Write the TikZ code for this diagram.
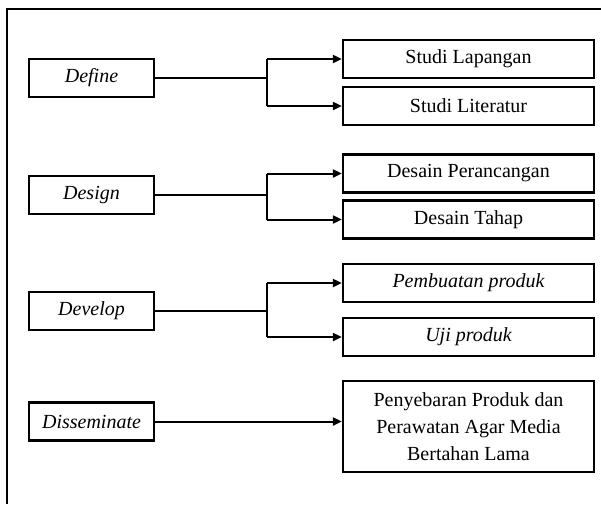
\documentclass[tikz,border=0pt]{standalone}
\usepackage{fontspec}
\setmainfont{Liberation Serif}
\usetikzlibrary{arrows.meta}
\begin{document}
\begin{tikzpicture}[x=1pt,y=-1pt,
  lbox/.style={draw, line width=2.3pt, minimum width=125pt, minimum height=38pt, inner sep=0pt, font=\fontsize{20}{24}\selectfont\itshape},
  rbox/.style={draw, line width=2.3pt, minimum width=251pt, minimum height=38pt, inner sep=0pt, font=\fontsize{20}{27}\selectfont},
  ibox/.style={rbox, font=\fontsize{20}{27}\selectfont\itshape},
  conn/.style={line width=2pt},
  arr/.style={conn, -{Triangle[length=9pt,width=8pt]}}]
\useasboundingbox (0,0) rectangle (601,504);
\draw[line width=2.6pt] (7,504) -- (7,9) -- (601,9);
% left column
\node[lbox] (def) at (91.5,78) {Define};
\node[lbox] (des) at (91.5,195) {Design};
\node[lbox] (dev) at (91.5,311) {Develop};
\node[lbox] (dis) at (91.5,421.5) {Disseminate};
% right column
\node[rbox] (sl) at (468.5,59) {Studi Lapangan};
\node[rbox] (slit) at (468.5,106) {Studi Literatur};
\node[rbox] (dp) at (468.5,173.5) {Desain Perancangan};
\node[rbox] (dt) at (468.5,219.5) {Desain Tahap};
\node[ibox] (pp) at (468.5,283) {Pembuatan produk};
\node[ibox] (up) at (468.5,337) {Uji produk};
\node[rbox, minimum height=91pt, align=center] (pen) at (468.5,426.5) {Penyebaran Produk dan\\Perawatan Agar Media\\Bertahan Lama};
% brackets
\coordinate (b1) at (267,78);
\coordinate (b2) at (267,195);
\coordinate (b3) at (267,311);
\draw[conn] (def.east) -- (b1);
\draw[conn] (b1 |- sl.west) -- (b1 |- slit.west);
\draw[arr] (b1 |- sl.west) -- (sl.west);
\draw[arr] (b1 |- slit.west) -- (slit.west);
\draw[conn] (des.east) -- (b2);
\draw[conn] (b2 |- dp.west) -- (b2 |- dt.west);
\draw[arr] (b2 |- dp.west) -- (dp.west);
\draw[arr] (b2 |- dt.west) -- (dt.west);
\draw[conn] (dev.east) -- (b3);
\draw[conn] (b3 |- pp.west) -- (b3 |- up.west);
\draw[arr] (b3 |- pp.west) -- (pp.west);
\draw[arr] (b3 |- up.west) -- (up.west);
\draw[arr] (dis.east) -- (dis.east -| pen.west);
\end{tikzpicture}
\end{document}
